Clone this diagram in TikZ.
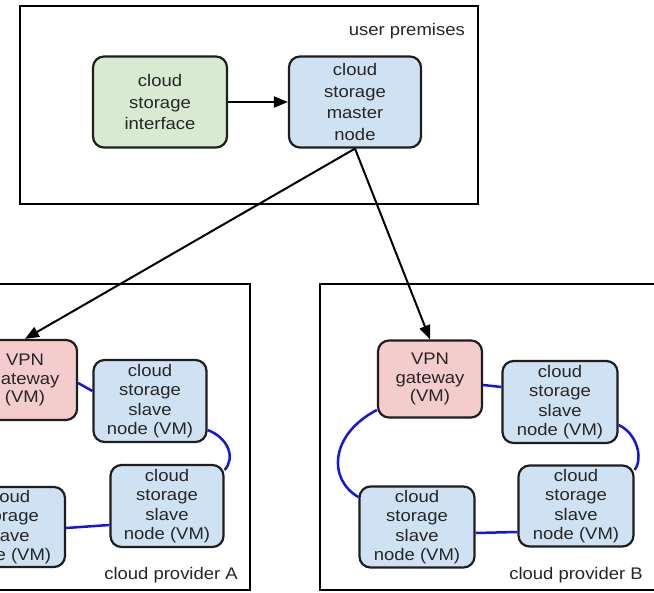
\documentclass[tikz,border=0pt]{standalone}
\usepackage{fontspec}
\setmainfont{Liberation Sans}[FakeStretch=1.1]
\usetikzlibrary{arrows.meta}
\definecolor{gfill}{HTML}{D9EAD3}
\definecolor{bfill}{HTML}{CFE2F3}
\definecolor{rfill}{HTML}{F4CCCC}
\definecolor{edgec}{HTML}{1E1E1E}
\definecolor{txt}{HTML}{262626}
\definecolor{linkblue}{HTML}{1414E6}
\begin{document}
\begin{tikzpicture}[x=1pt,y=-1pt,
  box/.style={draw=edgec,line width=2.2pt,rounded corners=11pt,align=center,
    text=txt,font=\fontsize{16.8}{19.5}\selectfont,inner sep=0pt},
  topbox/.style={box,font=\fontsize{16.8}{21.8}\selectfont},
  gbox/.style={topbox,fill=gfill},
  mbox/.style={topbox,fill=bfill},
  bbox/.style={box,fill=bfill},
  rbox/.style={box,fill=rfill,font=\fontsize{16.8}{18.8}\selectfont},
  area/.style={draw=black,line width=2pt},
  lbl/.style={text=txt,font=\fontsize{16.8}{19.5}\selectfont,inner sep=0pt},
  arr/.style={line width=2pt,-{Triangle[length=14pt,width=11pt]}},
  link/.style={draw=linkblue,line width=2.5pt}]
\useasboundingbox (0,0) rectangle (654,593);
\clip (0,0) rectangle (654,593);
\fill[white] (0,0) rectangle (654,593);
% areas
\draw[area] (20,6) rectangle (478,204);
\draw[area] (-10,284) rectangle (250,590);
\draw[area] (320,284) rectangle (665,590);
\node[lbl,anchor=east] (up) at (465,31) {user premises};
\node[lbl,anchor=east] (cpa) at (238,575) {cloud provider A};
\node[lbl,anchor=east] (cpb) at (643,575) {cloud provider B};
% top nodes
\node[gbox,minimum width=134pt,minimum height=91pt] (iface) at (160,102) {cloud\\storage\\interface};
\node[mbox,minimum width=132pt,minimum height=91pt] (master) at (355,102) {cloud\\storage\\master\\node};
% provider A
\node[rbox,minimum width=104pt,minimum height=80pt] (vpnA) at (25,380) {VPN\\gateway\\(VM)};
\node[bbox,minimum width=113pt,minimum height=82pt] (sA1) at (150,401) {cloud\\storage\\slave\\node (VM)};
\node[bbox,minimum width=113pt,minimum height=82pt] (sA2) at (167,506) {cloud\\storage\\slave\\node (VM)};
\node[bbox,minimum width=114pt,minimum height=80pt] (sA3) at (8,527) {cloud\\storage\\slave\\node (VM)};
% provider B
\node[rbox,minimum width=104pt,minimum height=77pt] (vpnB) at (430,379) {VPN\\gateway\\(VM)};
\node[bbox,minimum width=115pt,minimum height=82pt] (sB1) at (560,402) {cloud\\storage\\slave\\node (VM)};
\node[bbox,minimum width=115pt,minimum height=81pt] (sB2) at (576,506) {cloud\\storage\\slave\\node (VM)};
\node[bbox,minimum width=115pt,minimum height=81pt] (sB3) at (417,527) {cloud\\storage\\slave\\node (VM)};
% arrows
\draw[arr] (iface.east) -- (master.west);
\draw[arr] (master.south) -- (vpnA.north);
\draw[arr] (master.south) -- (vpnB.north);
% links A
\draw[link] ([yshift=-3pt]vpnA.east) -- ([yshift=10pt]sA1.west);
\draw[link] ([yshift=-29pt]sA1.east) .. controls +(21,8) and +(11,-12) .. ([yshift=36pt]sA2.east);
\draw[link] ([yshift=-19pt]sA2.west) -- ([yshift=-1pt]sA3.east);
% links B
\draw[link] ([yshift=-6pt]vpnB.east) -- ([yshift=15pt]sB1.west);
\draw[link] ([yshift=-23pt]sB1.east) .. controls +(18,8) and +(9,-12) .. ([yshift=36pt]sB2.east);
\draw[link] ([yshift=-26pt]sB2.west) -- ([yshift=-6pt]sB3.east);
\draw[link] ([yshift=30pt]sB3.west) .. controls +(-30,-17) and +(-48,25) .. ([yshift=-31pt]vpnB.west);
\end{tikzpicture}
\end{document}
